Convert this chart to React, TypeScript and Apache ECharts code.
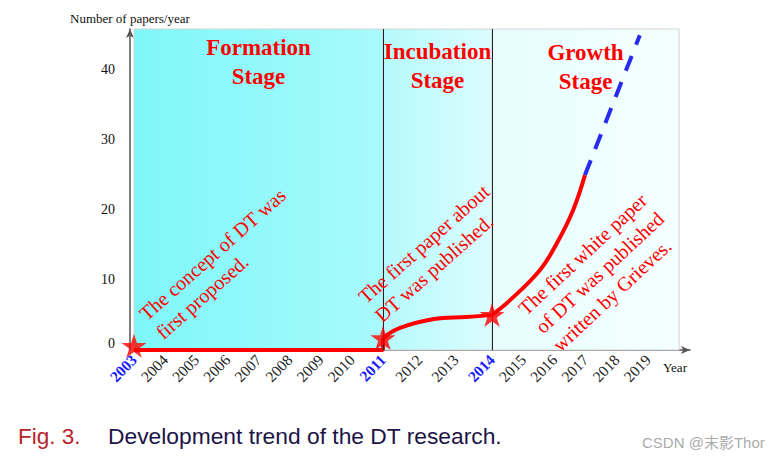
import React, { useEffect, useRef } from 'react';
import * as echarts from 'echarts';

// ---------- data ----------
const stageNames = ['Formation\nStage', 'Incubation\nStage', 'Growth\nStage'];
const stageBounds = [2003, 2011, 2014, 2020];
const highlightYears = [2003, 2011, 2014];
const lastYearLabel = 2019;
const yMax = 45.7;
const yInterval = 10;

const formationLine = [[2003, 0], [2011, 0], [2011, 1.7]];
const incubationLine = [[2011, 1.7], [2011.45, 3.1], [2012.4, 4.4], [2013.3, 4.7], [2014, 5.0]];
const growthLine = [[2014, 5.0], [2014.58, 7.1], [2015.54, 11.4], [2016.08, 15.2], [2016.6, 19.9], [2016.98, 24.9]];
const forecastLine = [[2016.98, 24.9], [2018.74, 44.8]];
const milestones = [[2003, 0.6], [2011, 1.7], [2014, 5.0]];

const noteTexts = [
  'The concept of DT was\nfirst proposed.',
  'The first paper about\nDT was published.',
  'The first white paper\nof DT was published\nwritten by Grieves.',
];

const yAxisTitle = 'Number of papers/year';
const xAxisTitle = 'Year';
const captionLabel = 'Fig. 3.';
const captionText = 'Development trend of the DT research.';
const watermark = 'CSDN @末影Thor';

// ---------- styles ----------
const SERIF = "'Liberation Serif', 'Times New Roman', serif";
const SANS = "'Liberation Sans', Arial, 'Noto Sans CJK SC', sans-serif";
const RED = '#ff0000';
const BLUE = '#2a2aee';
const AXIS = '#555555';
const STAR =
  'path://M50,2 L60.76,35.19 L95.65,35.17 L67.4,55.66 L78.2,88.83 L50,68.3 L21.8,88.83 L32.6,55.66 L4.35,35.17 L39.24,35.19 Z';

const grad = (a: string, b: string) => ({
  type: 'linear',
  x: 0,
  y: 0,
  x2: 1,
  y2: 0,
  colorStops: [
    { offset: 0, color: a },
    { offset: 1, color: b },
  ],
});

const stageColors = [
  ['#7ef7f9', '#a8fafc'],
  ['#b4fafc', '#dcfdfe'],
  ['#e6fdfe', '#f5ffff'],
];
const stageLabelDist = [4, 8, 9];

const grids = [
  { left: 134, top: 29, width: 249, height: 321 },
  { left: 383, top: 29, width: 109, height: 321 },
  { left: 492, top: 29, width: 198, height: 321 },
];
const xMaxes = [2011, 2014, 2020.35];

function xLabelFormatter(v: number) {
  if (!Number.isInteger(v) || v > lastYearLabel) return '';
  return highlightYears.includes(v) ? `{b|${v}}` : `{n|${v}}`;
}

export default function App() {
  const ref = useRef<HTMLDivElement>(null);

  useEffect(() => {
    document.body.style.margin = '0';
    if (!ref.current) return;
    const chart = echarts.init(ref.current, undefined, { renderer: 'svg' });

    const xAxis = grids.map((_, i) => ({
      type: 'value',
      gridIndex: i,
      min: stageBounds[i],
      max: xMaxes[i],
      interval: 1,
      offset: 2,
      axisLine: {
        show: true,
        lineStyle: { color: AXIS, width: 1.5 },
        symbol: i === 2 ? ['none', 'arrow'] : ['none', 'none'],
        symbolSize: [6, 9],
      },
      axisTick: { show: false },
      splitLine: { show: false },
      axisLabel: {
        show: true,
        rotate: 46,
        margin: 5,
        formatter: (v: number) => {
          if (i < 2 && v === xMaxes[i]) return '';
          return xLabelFormatter(v);
        },
        rich: {
          n: { fontFamily: SERIF, fontSize: 15.5, color: '#222' },
          b: { fontFamily: SERIF, fontSize: 15.5, color: '#1a1aff', fontWeight: 'bold' },
        },
      },
    }));

    const yAxis = grids.map((_, i) => ({
      type: 'value',
      gridIndex: i,
      min: 0,
      max: yMax,
      interval: yInterval,
      show: i === 0,
      offset: 4,
      axisLine: {
        show: true,
        lineStyle: { color: AXIS, width: 1.5 },
        symbol: ['none', 'arrow'],
        symbolSize: [6, 9],
      },
      axisTick: { show: false },
      splitLine: { show: false },
      axisLabel: {
        margin: 15,
        fontFamily: SERIF,
        fontSize: 14,
        color: '#111',
        formatter: (v: number) => {
          if (v % yInterval !== 0) return '';
          return v === 0 ? '{z|0}' : `{t|${v}}`;
        },
        rich: {
          z: { fontFamily: SERIF, fontSize: 14, color: '#111', padding: [0, 0, 14, 0] },
          t: { fontFamily: SERIF, fontSize: 14, color: '#111' },
        },
      },
    }));

    const bgSeries = grids.map((_, i) => ({
      type: 'line',
      xAxisIndex: i,
      yAxisIndex: i,
      data: [],
      silent: true,
      z: 1,
      markArea: {
        silent: true,
        itemStyle: {
          color: grad(stageColors[i][0], stageColors[i][1]),
          borderColor: '#d4d4d4',
          borderWidth: 1,
        },
        label: {
          show: true,
          position: 'insideTop',
          distance: stageLabelDist[i],
          formatter: stageNames[i],
          fontFamily: SERIF,
          fontSize: 23,
          fontWeight: 'bold',
          color: RED,
          lineHeight: 29,
          align: 'center',
        },
        data: [[{ xAxis: stageBounds[i] }, { xAxis: stageBounds[i + 1] }]],
      },
      ...(i === 1
        ? {
            markLine: {
              silent: true,
              symbol: ['none', 'none'],
              label: { show: false },
              lineStyle: { color: '#222', width: 1, type: 'solid' },
              data: [{ xAxis: stageBounds[1] }, { xAxis: stageBounds[2] }],
            },
          }
        : {}),
    }));

    const redStyle = { color: RED, width: 4 };
    const lineBase = { type: 'line', symbol: 'none', clip: false, z: 3, silent: true };

    const option = {
      animation: false,
      grid: grids,
      xAxis,
      yAxis,
      series: [
        ...bgSeries,
        { ...lineBase, xAxisIndex: 0, yAxisIndex: 0, data: formationLine, lineStyle: redStyle },
        {
          ...lineBase,
          xAxisIndex: 1,
          yAxisIndex: 1,
          data: incubationLine,
          smooth: 0.4,
          lineStyle: redStyle,
        },
        {
          ...lineBase,
          xAxisIndex: 2,
          yAxisIndex: 2,
          data: growthLine,
          smooth: 0.4,
          lineStyle: redStyle,
        },
        {
          ...lineBase,
          xAxisIndex: 2,
          yAxisIndex: 2,
          data: forecastLine,
          lineStyle: { color: BLUE, width: 4, type: [16, 12] },
        },
        ...milestones.map((m, i) => ({
          type: 'scatter',
          xAxisIndex: i,
          yAxisIndex: i,
          data: [m],
          symbol: STAR,
          symbolSize: [25, 24],
          clip: false,
          z: 5,
          silent: true,
          itemStyle: { color: RED },
        })),
      ],
      graphic: [
        {
          type: 'text',
          x: 70,
          y: 18,
          z: 10,
          style: { text: yAxisTitle, fontFamily: SERIF, fontSize: 13, fill: '#111', align: 'left', verticalAlign: 'middle' },
        },
        {
          type: 'text',
          x: 663,
          y: 367,
          z: 10,
          style: { text: xAxisTitle, fontFamily: SERIF, fontSize: 13, fill: '#111', align: 'left', verticalAlign: 'middle' },
        },
        ...[
          { x: 134, y: 307, r: 41.5 },
          { x: 353, y: 290, r: 41.6 },
          { x: 513, y: 302, r: 43 },
        ].map((p, i) => ({
          type: 'text',
          x: p.x,
          y: p.y,
          rotation: (p.r * Math.PI) / 180,
          z: 10,
          style: {
            text: noteTexts[i],
            fontFamily: SERIF,
            fontSize: 20,
            lineHeight: 25,
            fill: RED,
            align: 'left',
            verticalAlign: 'top',
          },
        })),
        {
          type: 'text',
          x: 18,
          y: 436,
          z: 10,
          style: { text: captionLabel, fontFamily: SANS, fontSize: 22.5, fill: '#b8242c', align: 'left', verticalAlign: 'middle' },
        },
        {
          type: 'text',
          x: 108,
          y: 436,
          z: 10,
          style: { text: captionText, fontFamily: SANS, fontSize: 22.8, fill: '#1c1448', align: 'left', verticalAlign: 'middle' },
        },
        {
          type: 'text',
          x: 642,
          y: 442,
          z: 10,
          style: { text: watermark, fontFamily: SANS, fontSize: 15, fill: '#ababab', align: 'left', verticalAlign: 'middle' },
        },
      ],
    };

    chart.setOption(option as any);
    return () => chart.dispose();
  }, []);

  return <div ref={ref} style={{ width: 773, height: 460, background: '#fff' }} />;
}
